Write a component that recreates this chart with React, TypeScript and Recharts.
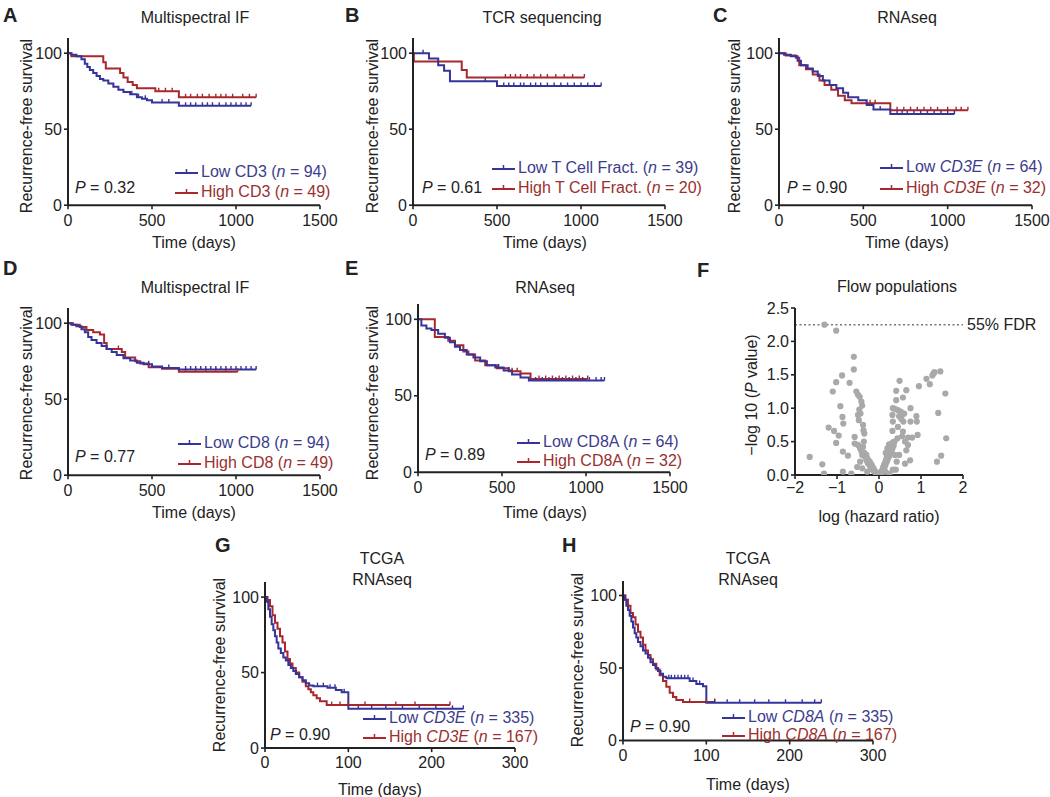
import React from "react";
import { LineChart, Line, XAxis, YAxis, ScatterChart, Scatter, ReferenceLine } from "recharts";

// Kaplan–Meier steps: [day, % recurrence-free] — value holds from that day on.
const A_LOW = [[0, 100], [20, 99], [50, 98], [80, 96], [100, 93], [115, 91], [130, 89], [150, 87], [170, 85], [190, 83], [210, 82], [240, 80], [270, 78], [300, 76], [330, 74.5], [370, 73], [410, 71], [440, 70], [470, 69], [500, 67.5], [660, 65.5]];
const A_LOW_CENS = [380, 420, 460, 560, 600, 700, 730, 760, 800, 830, 860, 900, 940, 970, 1000, 1030, 1060];
const A_HIGH = [[0, 100], [20, 98], [210, 94], [225, 90], [310, 87], [330, 84], [355, 81], [385, 79], [410, 77], [520, 75], [660, 71]];
const A_HIGH_CENS = [540, 580, 620, 700, 730, 770, 800, 840, 880, 910, 940, 980, 1040, 1080];

const B_LOW = [[0, 100], [95, 96.5], [150, 92], [185, 88.5], [220, 81.5], [500, 78.5]];
const B_LOW_CENS = [60, 430, 540, 570, 600, 640, 660, 700, 730, 760, 800, 840, 880, 920, 960, 1000, 1040, 1080];
const B_HIGH = [[0, 100], [5, 94.5], [290, 89], [320, 84]];
const B_HIGH_CENS = [550, 580, 610, 640, 680, 720, 760, 800, 850, 900, 950];

const C_LOW = [[0, 100], [30, 99], [70, 98], [110, 95], [130, 92], [170, 90], [200, 88], [230, 85], [260, 82], [300, 79], [340, 77], [380, 74], [410, 71], [470, 69], [520, 66], [560, 63], [660, 60]];
const C_LOW_CENS = [600, 700, 730, 760, 800, 840, 880, 920, 960, 1000];
const C_HIGH = [[0, 100], [40, 98.5], [100, 97], [120, 92], [160, 89.5], [200, 86], [240, 82], [270, 79], [310, 76], [350, 72], [390, 69], [430, 67], [660, 62.5]];
const C_HIGH_CENS = [540, 570, 700, 740, 780, 820, 860, 900, 940, 1000, 1050, 1080];

const D_LOW = [[0, 100], [20, 99], [50, 98], [80, 96], [100, 94], [120, 91], [140, 89], [170, 87], [200, 85], [230, 83], [260, 81], [290, 79], [330, 77], [370, 75.5], [410, 74], [450, 73], [500, 71.5], [560, 70.5], [660, 69.5]];
const D_LOW_CENS = [480, 600, 700, 730, 760, 790, 820, 850, 880, 910, 940, 970, 1000, 1030, 1060, 1090];
const D_HIGH = [[0, 100], [30, 99], [70, 97.5], [110, 95.5], [150, 94], [190, 92.5], [215, 87], [230, 83], [320, 81], [340, 77.5], [400, 75], [430, 73.5], [480, 71], [560, 70], [660, 68]];
const D_HIGH_CENS = [300, 700, 760, 820, 880, 940];

const E_LOW = [[0, 100], [20, 96], [50, 94], [80, 93], [120, 90.5], [160, 88], [190, 85], [220, 82], [250, 80], [290, 77], [330, 75], [370, 72.5], [410, 70], [460, 68.5], [510, 66.5], [560, 64], [610, 62], [660, 60]];
const E_LOW_CENS = [480, 540, 700, 740, 780, 820, 860, 900, 940, 980, 1020, 1060, 1090];
const E_HIGH = [[0, 100], [100, 88.5], [180, 86], [220, 83], [270, 79], [300, 77], [340, 73], [400, 70], [470, 68], [540, 66], [610, 64.5], [670, 61]];
const E_HIGH_CENS = [560, 590, 720, 760, 800, 840, 880, 920, 960];

const G_LOW = [[0, 100], [2, 97], [4, 92], [6, 87], [8, 82], [10, 78], [12, 74], [14, 70], [16, 66], [19, 63], [22, 60], [25, 58], [28, 55], [31, 53], [34, 51], [37, 49], [41, 47], [45, 45], [49, 43], [53, 41.5], [58, 41], [75, 40], [85, 38.5], [92, 37], [100, 26]];
const G_LOW_CENS = [63, 70, 78, 84, 95, 112, 128, 145, 165, 185, 205, 225];
const G_HIGH = [[0, 100], [3, 98], [6, 94], [9, 88], [12, 83], [15, 79], [18, 74], [21, 70], [24, 64], [27, 59], [30, 56], [33, 53], [37, 50], [41, 47], [45, 44], [49, 41], [52, 39], [55, 37], [58, 35], [62, 33], [66, 31], [74, 28.5]];
const G_HIGH_CENS = [80, 90, 100, 120, 157, 180];

const H_LOW = [[0, 100], [2, 97], [4, 93], [6, 90], [8, 86], [10, 82], [12, 78], [14, 74], [16, 71], [18, 68], [21, 65], [24, 62], [27, 60], [30, 57], [33, 54], [36, 52], [39, 50], [42, 48], [45, 46], [48, 44], [52, 43], [80, 41], [88, 39], [96, 37.5], [100, 26]];
const H_LOW_CENS = [55, 58, 62, 66, 70, 74, 78, 84, 92, 110, 125, 140, 158, 175, 195, 215, 230];
const H_HIGH = [[0, 100], [3, 97], [6, 93], [9, 88], [12, 85], [15, 80], [18, 75], [21, 71], [24, 66], [27, 62], [30, 59], [33, 56], [36, 53], [40, 49], [44, 45], [48, 41], [52, 37], [56, 33], [60, 30], [64, 28], [72, 26.5]];
const H_HIGH_CENS = [80, 100];

const DAY_TICKS = [0, 500, 1000, 1500];
const TCGA_TICKS = [0, 100, 200, 300];
const SURV_TICKS = [0, 50, 100];

// Flow populations volcano: [log hazard ratio, -log10 P]
const FLOW_PTS = [
  [-1.3, 2.25], [-1.02, 2.16], [-0.6, 1.77], [-0.6, 1.58], [-0.88, 1.49], [-1.02, 1.39], [-0.7, 1.38], [-1.1, 1.25], [-0.54, 1.25],
  [-0.5, 1.2], [-0.46, 1.17], [-0.42, 1.1], [-0.4, 1.04], [-0.47, 0.98], [-0.44, 0.92], [-0.5, 0.9], [-0.48, 0.82], [-0.38, 0.75],
  [-0.37, 0.67], [-0.35, 0.62], [-0.92, 1.03], [-0.87, 0.87], [-0.85, 0.77], [-1.2, 0.71], [-1.07, 0.66], [-0.96, 0.59], [-1.02, 0.48],
  [-0.58, 0.57], [-0.58, 0.47], [-0.86, 0.35], [-0.74, 0.29], [-1.65, 0.27], [-1.35, 0.16], [-1.31, 0.02], [-0.86, 0.05], [-0.66, 0.02],
  [-0.5, 0.45], [-0.45, 0.4], [-0.42, 0.36], [-0.4, 0.3], [-0.38, 0.42], [-0.35, 0.33], [-0.33, 0.27], [-0.3, 0.3], [-0.3, 0.22],
  [-0.28, 0.25], [-0.27, 0.18], [-0.25, 0.22], [-0.23, 0.15], [-0.22, 0.2], [-0.2, 0.12], [-0.18, 0.16], [-0.17, 0.09], [-0.15, 0.12],
  [-0.13, 0.06], [-0.12, 0.09], [-0.1, 0.05], [-0.08, 0.03], [-0.06, 0.04], [-0.05, 0.02], [-0.03, 0.01], [-0.02, 0.03], [-0.45, 0.2],
  [-0.52, 0.12], [-0.4, 0.1], [-0.28, 0.05], [-0.36, 0.5], [0, 0], [0.02, 0.01], [0.03, 0.03], [-0.01, 0.02],
  [0.05, 0.03], [0.06, 0.06], [0.08, 0.05], [0.09, 0.09], [0.1, 0.12], [0.12, 0.1], [0.12, 0.15], [0.14, 0.18], [0.15, 0.14],
  [0.16, 0.21], [0.18, 0.19], [0.18, 0.25], [0.2, 0.22], [0.2, 0.28], [0.22, 0.31], [0.22, 0.26], [0.24, 0.34], [0.25, 0.29],
  [0.26, 0.38], [0.27, 0.33], [0.28, 0.42], [0.3, 0.36], [0.3, 0.46], [0.32, 0.4], [0.33, 0.49], [0.35, 0.44], [0.37, 0.5],
  [0.2, 0.4], [0.16, 0.33], [0.24, 0.46], [0.38, 0.3], [0.42, 0.2], [0.4, 0.08], [0.33, 0.08], [0.25, 0.02], [0.15, 0.05],
  [0.49, 1.41], [0.41, 1.26], [0.65, 1.27], [0.57, 1.16], [0.41, 1.12], [0.33, 1.0], [0.38, 0.99], [0.45, 0.97], [0.52, 0.95],
  [0.55, 0.9], [0.48, 0.88], [0.6, 0.92], [0.53, 0.84], [0.58, 0.8], [0.75, 1.0], [0.89, 0.88], [0.9, 0.8], [0.75, 0.8],
  [0.32, 0.9], [0.33, 0.8], [0.45, 0.72], [0.57, 0.65], [0.32, 0.66], [0.69, 0.56], [0.79, 0.56], [0.92, 0.6], [0.69, 0.45],
  [0.65, 0.37], [0.48, 0.3], [0.74, 0.22], [0.62, 0.17], [0.95, 1.33], [1.13, 1.44], [1.21, 1.36], [1.27, 1.49], [1.32, 1.54],
  [1.3, 1.52], [1.46, 1.55], [1.58, 1.22], [1.41, 0.93], [1.6, 0.55], [1.38, 0.2], [1.48, 0.29], [0.62, 0.5], [0.55, 0.58], [0.44, 0.55],
];
const FLOW_X_TICKS = [-2, -1, 0, 1, 2];
const FLOW_Y_TICKS = [0, 0.5, 1, 1.5, 2, 2.5];
const FDR_LINE = 2.25;

const FONT = '"Liberation Sans", Arial, Helvetica, sans-serif';
const INK = "#222";
const BLUE = "#34349a";
const RED = "#a8282e";
const BLUE_TXT = "#3c3c8c";
const RED_TXT = "#9a2f2f";

type Step = number[];

function buildKM(steps: Step[], cens: number[], end: number) {
  const at = (t: number) => {
    let v = steps[0][1];
    for (const [st, s] of steps) if (st <= t) v = s;
    return v;
  };
  const pts = steps.map(([t, s]) => ({ t, s, c: false }));
  cens.forEach((t) => pts.push({ t, s: at(t), c: true }));
  pts.push({ t: end, s: at(end), c: true });
  return pts.sort((a, b) => a.t - b.t);
}

const censor = (color: string) => (p: any) => {
  const { cx, cy, payload, index } = p;
  if (!payload || !payload.c) return <g key={index} />;
  return <line key={index} x1={cx} x2={cx} y1={cy - 3.5} y2={cy} stroke={color} strokeWidth={1.4} />;
};

const tickStyle = { fontSize: 16, fill: INK, fontFamily: FONT };
const axisLine = { stroke: INK, strokeWidth: 2 };
const tickLine = { stroke: INK, strokeWidth: 1.6 };

function KM(props: any) {
  const { L, R, y100, y0, xMax, xTicks, low, high } = props;
  const top = y0 - 1.1 * (y0 - y100);
  const ml = 50, mt = 12, mr = 22, mb = 32;
  return (
    <div style={{ position: "absolute", left: L - ml, top: top - mt }}>
      <LineChart width={R - L + ml + mr} height={y0 - top + mt + mb} margin={{ top: mt, right: mr, bottom: 0, left: 0 }}>
        <XAxis type="number" dataKey="t" domain={[0, xMax]} ticks={xTicks} interval={0} allowDataOverflow
          height={mb} tick={tickStyle} axisLine={axisLine} tickLine={tickLine} tickSize={4} tickMargin={5} />
        <YAxis type="number" domain={[0, 110]} ticks={SURV_TICKS} interval={0} allowDataOverflow
          width={ml} tick={tickStyle} axisLine={axisLine} tickLine={tickLine} tickSize={4} tickMargin={2} />
        <Line data={high} dataKey="s" type="stepAfter" stroke={RED} strokeWidth={2} dot={censor(RED)} activeDot={false} isAnimationActive={false} />
        <Line data={low} dataKey="s" type="stepAfter" stroke={BLUE} strokeWidth={2} dot={censor(BLUE)} activeDot={false} isAnimationActive={false} />
      </LineChart>
    </div>
  );
}

function T({ x, y, anchor = "middle", size = 16, color = INK, bold = false, children }: any) {
  const tx = anchor === "middle" ? "-50%" : anchor === "end" ? "-100%" : "0";
  return (
    <div style={{ position: "absolute", left: x, top: y, transform: `translate(${tx},-50%)`, fontSize: size, color,
      fontWeight: bold ? 700 : 400, whiteSpace: "nowrap", lineHeight: 1 }}>
      {children}
    </div>
  );
}

function VT({ x, y, children }: any) {
  return (
    <div style={{ position: "absolute", left: x, top: y, transform: "translate(-50%,-50%) rotate(-90deg)", fontSize: 16,
      color: INK, whiteSpace: "nowrap", lineHeight: 1 }}>
      {children}
    </div>
  );
}

function Key({ x, y, color, text, children }: any) {
  return (
    <div style={{ position: "absolute", left: x, top: y, transform: "translateY(-50%)", display: "flex", alignItems: "center",
      fontSize: 16, color: text, whiteSpace: "nowrap", lineHeight: 1 }}>
      <svg width={23} height={10} style={{ marginRight: 3 }}>
        <line x1={0} x2={23} y1={6} y2={6} stroke={color} strokeWidth={2} />
        <line x1={11.5} x2={11.5} y1={2} y2={6} stroke={color} strokeWidth={1.5} />
      </svg>
      <span>{children}</span>
    </div>
  );
}

const n = (v: number) => (<>(<i>n</i> = {v})</>);
const P = (v: string) => (<><i>P</i> = {v}</>);

function Flow() {
  const L = 795, R = 963, top = 308, y0 = 475;
  const ml = 45, mt = 12, mr = 10, mb = 32;
  const pts = FLOW_PTS.map(([x, y]) => ({ x, y }));
  return (
    <div style={{ position: "absolute", left: L - ml, top: top - mt }}>
      <ScatterChart width={R - L + ml + mr} height={y0 - top + mt + mb} margin={{ top: mt, right: mr, bottom: 0, left: 0 }}>
        <XAxis type="number" dataKey="x" domain={[-2, 2]} ticks={FLOW_X_TICKS} interval={0} allowDataOverflow
          tickFormatter={(v: number) => (v < 0 ? `\u2212${Math.abs(v)}` : `${v}`)}
          height={mb} tick={tickStyle} axisLine={axisLine} tickLine={tickLine} tickSize={4} tickMargin={3} />
        <YAxis type="number" dataKey="y" domain={[0, 2.5]} ticks={FLOW_Y_TICKS} interval={0} allowDataOverflow
          tickFormatter={(v: number) => v.toFixed(1)}
          width={ml} tick={tickStyle} axisLine={axisLine} tickLine={tickLine} tickSize={4} tickMargin={2} />
        <ReferenceLine y={FDR_LINE} stroke="#777" strokeWidth={1.5} strokeDasharray="2 2.5" />
        <Scatter data={pts} fill="#a9a9a9" isAnimationActive={false}
          shape={(p: any) => <circle cx={p.cx} cy={p.cy} r={3.1} fill="#a9a9a9" />} />
      </ScatterChart>
    </div>
  );
}

export default function App() {
  return (
    <div style={{ position: "absolute", left: 0, top: 0, width: 1050, height: 797, background: "#fff", fontFamily: FONT, overflow: "hidden" }}>
      {/* A */}
      <T x={3} y={15} anchor="start" size={20} bold>A</T>
      <T x={195} y={18}>Multispectral IF</T>
      <VT x={27} y={126}>Recurrence-free survival</VT>
      <KM L={68} R={320} y100={53} y0={205} xMax={1500} xTicks={DAY_TICKS}
        low={buildKM(A_LOW, A_LOW_CENS, 1090)} high={buildKM(A_HIGH, A_HIGH_CENS, 1120)} />
      <T x={75} y={188} anchor="start">{P("0.32")}</T>
      <Key x={175} y={172} color={BLUE} text={BLUE_TXT}>Low CD3 {n(94)}</Key>
      <Key x={175} y={192} color={RED} text={RED_TXT}>High CD3 {n(49)}</Key>
      <T x={194} y={243}>Time (days)</T>

      {/* B */}
      <T x={345} y={15} anchor="start" size={20} bold>B</T>
      <T x={542} y={18}>TCR sequencing</T>
      <VT x={373} y={126}>Recurrence-free survival</VT>
      <KM L={413} R={665} y100={53} y0={205} xMax={1500} xTicks={DAY_TICKS}
        low={buildKM(B_LOW, B_LOW_CENS, 1120)} high={buildKM(B_HIGH, B_HIGH_CENS, 1020)} />
      <T x={422} y={188} anchor="start">{P("0.61")}</T>
      <Key x={492} y={168} color={BLUE} text={BLUE_TXT}>Low T Cell Fract. {n(39)}</Key>
      <Key x={492} y={188} color={RED} text={RED_TXT}>High T Cell Fract. {n(20)}</Key>
      <T x={545} y={243}>Time (days)</T>

      {/* C */}
      <T x={713} y={15} anchor="start" size={20} bold>C</T>
      <T x={907} y={18}>RNAseq</T>
      <VT x={735} y={126}>Recurrence-free survival</VT>
      <KM L={779} R={1032} y100={53} y0={205} xMax={1500} xTicks={DAY_TICKS}
        low={buildKM(C_LOW, C_LOW_CENS, 1040)} high={buildKM(C_HIGH, C_HIGH_CENS, 1120)} />
      <T x={787} y={188} anchor="start">{P("0.90")}</T>
      <Key x={880} y={167} color={BLUE} text={BLUE_TXT}>Low <i>CD3E</i> {n(64)}</Key>
      <Key x={880} y={188} color={RED} text={RED_TXT}>High <i>CD3E</i> {n(32)}</Key>
      <T x={907} y={243}>Time (days)</T>

      {/* D */}
      <T x={3} y={268} anchor="start" size={20} bold>D</T>
      <T x={195} y={288}>Multispectral IF</T>
      <VT x={27} y={393}>Recurrence-free survival</VT>
      <KM L={68} R={320} y100={323} y0={475} xMax={1500} xTicks={DAY_TICKS}
        low={buildKM(D_LOW, D_LOW_CENS, 1120)} high={buildKM(D_HIGH, D_HIGH_CENS, 1010)} />
      <T x={75} y={457} anchor="start">{P("0.77")}</T>
      <Key x={178} y={443} color={BLUE} text={BLUE_TXT}>Low CD8 {n(94)}</Key>
      <Key x={178} y={463} color={RED} text={RED_TXT}>High CD8 {n(49)}</Key>
      <T x={194} y={513}>Time (days)</T>

      {/* E */}
      <T x={345} y={268} anchor="start" size={20} bold>E</T>
      <T x={545} y={288}>RNAseq</T>
      <VT x={373} y={393}>Recurrence-free survival</VT>
      <KM L={418} R={670} y100={319} y0={472} xMax={1500} xTicks={DAY_TICKS}
        low={buildKM(E_LOW, E_LOW_CENS, 1110)} high={buildKM(E_HIGH, E_HIGH_CENS, 1010)} />
      <T x={425} y={455} anchor="start">{P("0.89")}</T>
      <Key x={517} y={442} color={BLUE} text={BLUE_TXT}>Low CD8A {n(64)}</Key>
      <Key x={517} y={461} color={RED} text={RED_TXT}>High CD8A {n(32)}</Key>
      <T x={545} y={513}>Time (days)</T>

      {/* F */}
      <T x={697} y={270} anchor="start" size={20} bold>F</T>
      <T x={897} y={287}>Flow populations</T>
      <VT x={752} y={395}>{"\u2212"}log 10 (<i>P</i> value)</VT>
      <Flow />
      <T x={967} y={325} anchor="start">55% FDR</T>
      <T x={879} y={517}>log (hazard ratio)</T>

      {/* G */}
      <T x={215} y={545} anchor="start" size={20} bold>G</T>
      <T x={382} y={559}>TCGA</T>
      <T x={382} y={580}>RNAseq</T>
      <VT x={220} y={665}>Recurrence-free survival</VT>
      <KM L={265} R={515} y100={597} y0={748} xMax={300} xTicks={TCGA_TICKS}
        low={buildKM(G_LOW, G_LOW_CENS, 238)} high={buildKM(G_HIGH, G_HIGH_CENS, 222)} />
      <T x={270} y={735} anchor="start">{P("0.90")}</T>
      <Key x={363} y={718} color={BLUE} text={BLUE_TXT}>Low <i>CD3E</i> {n(335)}</Key>
      <Key x={363} y={737} color={RED} text={RED_TXT}>High <i>CD3E</i> {n(167)}</Key>
      <T x={380} y={790}>Time (days)</T>

      {/* H */}
      <T x={562} y={545} anchor="start" size={20} bold>H</T>
      <T x={748} y={559}>TCGA</T>
      <T x={748} y={580}>RNAseq</T>
      <VT x={578} y={660}>Recurrence-free survival</VT>
      <KM L={623} R={873} y100={595} y0={740} xMax={300} xTicks={TCGA_TICKS}
        low={buildKM(H_LOW, H_LOW_CENS, 238)} high={buildKM(H_HIGH, H_HIGH_CENS, 110)} />
      <T x={630} y={727} anchor="start">{P("0.90")}</T>
      <Key x={722} y={717} color={BLUE} text={BLUE_TXT}>Low <i>CD8A</i> {n(335)}</Key>
      <Key x={722} y={735} color={RED} text={RED_TXT}>High <i>CD8A</i> {n(167)}</Key>
      <T x={748} y={785}>Time (days)</T>
    </div>
  );
}
